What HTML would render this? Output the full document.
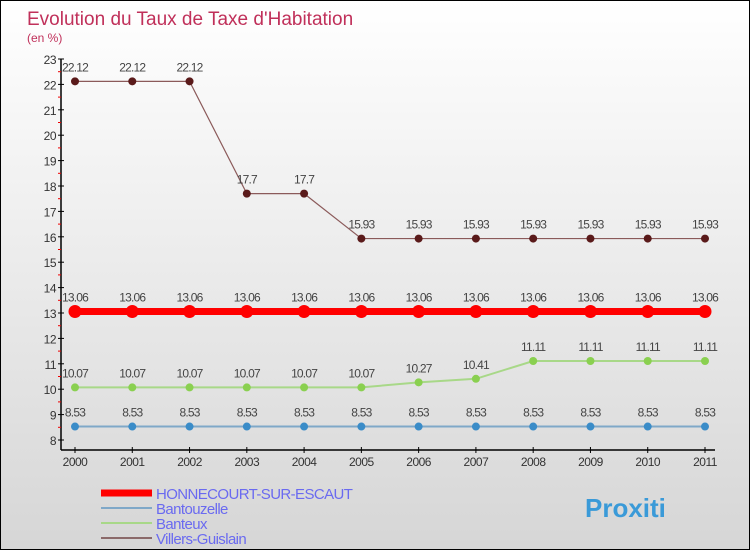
<!DOCTYPE html>
<html><head><meta charset="utf-8"><style>
body{margin:0}
#c{width:748px;height:548px;border:1px solid #000;background:linear-gradient(#fff,#d6d6d6);position:relative;font-family:"Liberation Sans",sans-serif;overflow:hidden}
</style></head><body>
<div id="c">
<svg id="s" width="748" height="548"></svg>
</div>
<script>
const years=[2000,2001,2002,2003,2004,2005,2006,2007,2008,2009,2010,2011];
const honnecourt=[13.06,13.06,13.06,13.06,13.06,13.06,13.06,13.06,13.06,13.06,13.06,13.06];
const bantouzelle=[8.53,8.53,8.53,8.53,8.53,8.53,8.53,8.53,8.53,8.53,8.53,8.53];
const banteux=[10.07,10.07,10.07,10.07,10.07,10.07,10.27,10.41,11.11,11.11,11.11,11.11];
const villers=[22.12,22.12,22.12,17.7,17.7,15.93,15.93,15.93,15.93,15.93,15.93,15.93];
const yTicks=[8,9,10,11,12,13,14,15,16,17,18,19,20,21,22,23];
const seriesNames=["HONNECOURT-SUR-ESCAUT","Bantouzelle","Banteux","Villers-Guislain"];
const NS="http://www.w3.org/2000/svg";
const svg=document.getElementById('s');
function xs(i){return 74+i*(704-74)/(years.length-1);}
function ys(v){return 439-(v-8)*25.4;}
function mk(t,a,p){const e=document.createElementNS(NS,t);for(const k in a)e.setAttribute(k,a[k]);(p||svg).appendChild(e);return e;}
let t=mk('text',{x:26,y:24,'font-size':19,fill:'#c0305a'});t.textContent='Evolution du Taux de Taxe d\'Habitation';

t=mk('text',{x:26,y:41,'font-size':12,fill:'#c0305a'});t.textContent='(en %)';

let a=mk('line',{x1:60,y1:58,x2:60,y2:449,stroke:'#000','stroke-width':1.5});

a=mk('line',{x1:60,y1:449,x2:714,y2:449,stroke:'#000','stroke-width':1.5});

yTicks.forEach(v=>{const y=ys(v);mk('line',{x1:57,y1:y,x2:63,y2:y,stroke:'#000'});
 if(v<23)mk('line',{x1:57,y1:ys(v+0.5),x2:60,y2:ys(v+0.5),stroke:'#e00'});
 const l=mk('text',{x:55,y:y+5,'font-size':12,fill:'#333','text-anchor':'end','letter-spacing':'-0.5'});l.textContent=v;
 });
years.forEach((yr,i)=>{const x=xs(i);mk('line',{x1:x,y1:446,x2:x,y2:452,stroke:'#000'});
 const l=mk('text',{x:x,y:465,'font-size':12,fill:'#333','text-anchor':'middle','letter-spacing':'-0.5'});l.textContent=yr;
 });
function series(vals,color,dot,w,r,name){
 const g=mk('g',{});
 mk('polyline',{points:vals.map((v,i)=>xs(i)+','+ys(v)).join(' '),fill:'none',stroke:color,'stroke-width':w},g);
 vals.forEach((v,i)=>{const c=mk('circle',{cx:xs(i),cy:ys(v),r:r,fill:dot},g);
  
  const l=mk('text',{x:xs(i),y:ys(v)-10,'font-size':12,fill:'#444','text-anchor':'middle','letter-spacing':'-0.8'},g);l.textContent=v;
  });
}
series(villers,'#8b5a5a','#5a1a1a',1.2,4,'villers-guislain-series');
series(bantouzelle,'#7fa8c8','#3a8cc8',2,4,'bantouzelle-series');
series(banteux,'#a8d888','#8ad050',2,4,'banteux-series');
series(honnecourt,'#ff0000','#ff0000',7,6.5,'honnecourt-series');
const lc=['#ff0000','#7fa8c8','#a8d888','#8b6a6a'],lw=[7,2,2,2];
seriesNames.forEach((n,i)=>{const y=492+i*15;
 const g=mk('g',{});
 mk('line',{x1:100,y1:y,x2:151,y2:y,stroke:lc[i],'stroke-width':lw[i]},g);
 const l=mk('text',{x:155,y:y+6,'font-size':15,fill:'#6a6af0','letter-spacing':'-0.6'},g);l.textContent=n;});
t=mk('text',{x:584,y:516,'font-size':26,'font-weight':'bold',fill:'#3a9ad8'});t.textContent='Proxiti';

</script>
</body></html>
